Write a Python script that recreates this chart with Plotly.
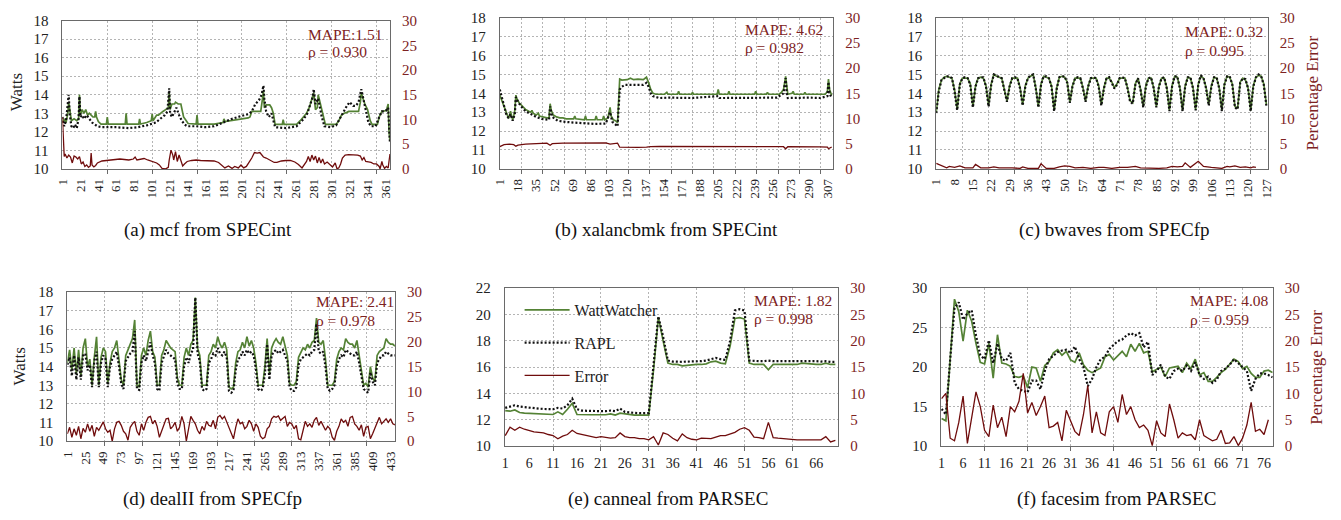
import plotly.graph_objects as go

# ---------------- DATA ----------------
# (a) mcf from SPECint
A_TICKS = [1, 21, 41, 61, 81, 101, 121, 141, 161, 181, 201, 221, 241, 261, 281, 301, 321, 341, 361]
A_WW_X = [1, 3, 5, 7, 8, 9, 11, 14, 17, 19,
          20, 21, 23, 25, 27, 29, 31, 33, 35, 37,
          38, 39, 41, 44, 50, 51, 52, 60, 71, 72,
          73, 86, 87, 88, 95, 100, 101, 102, 106, 108,
          110, 113, 116, 119, 120, 121, 123, 126, 127, 130,
          133, 134, 136, 139, 141, 150, 151, 152, 170, 180,
          181, 182, 190, 197, 205, 208, 210, 212, 220, 222,
          224, 225, 226, 228, 232, 234, 236, 238, 246, 247,
          248, 262, 266, 270, 273, 276, 279, 281, 283, 285,
          286, 288, 290, 292, 294, 306, 309, 312, 315, 318,
          320, 331, 333, 334, 336, 338, 341, 344, 346, 352,
          354, 357, 362, 364, 365, 366]
A_WW = [12.5, 12.7, 12.5, 13.0, 13.6, 13.3, 12.6, 12.7, 12.6, 12.7,
        14.0, 12.9, 13.2, 13.0, 13.2, 12.9, 13.0, 12.9, 12.8, 12.8,
        13.1, 12.8, 12.55, 12.42, 12.42, 12.8, 12.42, 12.42, 12.42, 13.0,
        12.42, 12.42, 12.7, 12.42, 12.5, 12.6, 12.95, 12.6, 12.9, 12.9,
        13.0, 13.1, 13.2, 13.3, 14.1, 13.2, 13.5, 13.5, 13.6, 13.5,
        13.5, 13.2, 12.8, 12.6, 12.45, 12.42, 12.9, 12.42, 12.42, 12.5,
        12.7, 12.55, 12.6, 12.65, 12.7, 12.75, 12.8, 13.1, 13.1, 13.1,
        13.8, 14.2, 13.3, 13.45, 13.45, 13.3, 13.0, 12.4, 12.4, 12.65,
        12.4, 12.4, 12.6, 12.8, 13.0, 13.3, 13.8, 14.1, 13.2, 13.3,
        14.0, 13.6, 13.3, 12.8, 12.4, 12.4, 12.6, 12.9, 13.0, 13.05,
        13.1, 13.1, 13.6, 14.1, 13.8, 13.5, 13.2, 12.6, 12.4, 12.4,
        12.8, 13.1, 13.15, 13.5, 12.0, 11.5]
A_RAPL_X = [1, 3, 5, 7, 8, 9, 11, 13, 15, 17,
            19, 20, 21, 23, 25, 28, 31, 34, 37, 40,
            45, 60, 75, 85, 95, 105, 110, 115, 118, 120,
            121, 123, 126, 128, 131, 134, 137, 140, 150, 160,
            170, 180, 190, 200, 208, 212, 216, 220, 223, 225,
            226, 228, 231, 234, 236, 238, 250, 262, 266, 270,
            274, 277, 280, 281, 283, 286, 288, 290, 293, 300,
            306, 310, 314, 318, 321, 325, 328, 331, 334, 336,
            339, 342, 345, 350, 354, 357, 360, 363, 364, 365,
            366]
A_RAPL = [12.8, 12.3, 12.6, 13.5, 14.0, 13.0, 12.3, 12.2, 12.4, 12.2,
          12.7, 13.9, 12.8, 12.9, 12.7, 12.9, 12.7, 12.5, 12.4, 12.3,
          12.25, 12.25, 12.2, 12.25, 12.35, 12.5, 12.7, 12.9, 13.1, 14.35,
          13.0, 12.8, 13.1, 13.3, 12.9, 12.6, 12.4, 12.3, 12.3, 12.25,
          12.3, 12.5, 12.7, 12.85, 12.95, 13.1, 13.5, 13.7, 14.0, 14.5,
          13.8, 13.1, 12.8, 13.0, 12.6, 12.25, 12.2, 12.3, 12.5, 12.7,
          13.0, 13.4, 13.9, 14.3, 13.5, 13.8, 13.2, 12.8, 12.3, 12.25,
          12.35, 12.7, 13.1, 13.4, 13.6, 13.4, 13.4, 13.6, 14.3, 13.8,
          13.2, 12.5, 12.3, 12.3, 12.8, 13.1, 13.1, 13.2, 13.3, 12.3,
          11.4]
A_ERR_X = [1, 2, 3, 4, 6, 8, 10, 12, 14, 16,
           18, 20, 22, 24, 26, 28, 30, 32, 33, 34,
           36, 38, 40, 45, 50, 55, 60, 65, 70, 75,
           80, 82, 84, 88, 92, 96, 100, 103, 106, 109,
           112, 116, 119, 120, 122, 124, 125, 127, 129, 131,
           133, 135, 137, 140, 145, 150, 155, 160, 165, 170,
           175, 178, 182, 186, 190, 193, 197, 200, 203, 206,
           209, 212, 215, 218, 221, 223, 225, 228, 231, 234,
           237, 240, 245, 250, 255, 260, 264, 268, 271, 273,
           275, 277, 279, 281, 283, 285, 287, 289, 291, 293,
           296, 299, 302, 305, 307, 309, 311, 313, 316, 320,
           325, 330, 333, 335, 337, 339, 342, 345, 348, 351,
           354, 355, 357, 358, 360, 362, 364, 365, 366]
A_ERR = [10.5, 4.0, 2.5, 3.0, 2.2, 2.8, 2.4, 1.2, 2.6, 2.4,
         2.0, 2.5, 1.0, 1.4, 0.5, 0.8, 0.3, 0.6, 3.2, 0.8,
         0.4, 0.7, 1.2, 1.6, 1.7, 1.9, 2.0, 2.0, 1.9, 1.8,
         2.0, 2.4, 1.8, 2.0, 2.1, 1.8, 1.6, 1.4, 1.2, 0.8,
         0.1, 0.0, 0.3, 1.8, 3.8, 2.8, 1.8, 3.5, 1.5, 2.8,
         1.8, 0.6, 1.0, 1.5, 1.7, 1.8, 1.7, 1.7, 1.6, 1.6,
         1.3, 0.9, 0.2, 0.6, 0.1, 0.5, 0.2, 0.8, 0.2, 0.5,
         1.3, 2.2, 3.3, 3.2, 3.3, 2.8, 2.4, 2.2, 1.9, 1.6,
         1.3, 1.3, 1.6, 1.7, 1.7, 1.4, 0.9, 0.2, 1.0, 1.5,
         2.5, 1.5, 2.8, 1.8, 2.6, 1.2, 2.3, 1.2, 2.0, 1.0,
         1.4, 0.8, 0.4, 1.2, 0.0, 0.2, 1.0, 2.2, 2.8, 2.9,
         2.9, 2.8, 2.6, 1.8, 2.3, 1.5, 1.4, 1.3, 1.0, 1.0,
         0.5, 0.0, 1.5, 0.8, 0.1, 0.5, 0.2, 1.5, 3.0]

# (b) xalancbmk from SPECint
B_TICKS = [1, 18, 35, 52, 69, 86, 103, 120, 137, 154, 171, 188, 205, 222, 239, 256, 273, 290, 307]
B_WW_X = [1, 3, 5, 7, 9, 10, 11, 12, 13, 14,
          15, 16, 17, 19, 22, 25, 28, 30, 31, 32,
          35, 37, 38, 41, 45, 47, 48, 49, 51, 54,
          57, 60, 63, 70, 71, 72, 80, 81, 82, 90,
          91, 92, 97, 98, 99, 102, 103, 104, 105, 107,
          109, 111, 113, 115, 120, 123, 126, 130, 135, 138,
          140, 142, 144, 147, 155, 157, 158, 167, 168, 169,
          180, 181, 182, 204, 205, 206, 214, 215, 216, 239,
          240, 241, 250, 251, 252, 262, 264, 266, 268, 269,
          270, 274, 275, 276, 285, 286, 287, 305, 307, 308,
          309, 311]
B_WW = [13.9, 13.6, 13.2, 12.9, 12.7, 12.75, 13.05, 12.8, 12.6, 12.8,
        13.1, 13.9, 13.7, 13.5, 13.3, 13.15, 13.05, 13.0, 13.1, 12.95,
        12.85, 12.95, 12.8, 12.75, 12.7, 12.7, 13.45, 13.1, 12.85, 12.75,
        12.7, 12.7, 12.65, 12.65, 12.8, 12.65, 12.6, 12.8, 12.6, 12.6,
        12.8, 12.6, 12.6, 12.8, 12.6, 12.7, 13.1, 13.25, 12.8, 12.6,
        12.55, 12.45, 14.75, 14.7, 14.72, 14.8, 14.72, 14.75, 14.72, 14.85,
        14.55, 14.2, 14.0, 13.95, 13.95, 14.05, 13.95, 13.95, 14.1, 13.95,
        13.95, 14.05, 13.95, 13.95, 14.2, 13.95, 13.95, 14.1, 13.95, 13.95,
        14.1, 13.95, 13.95, 14.05, 13.95, 13.95, 14.05, 14.2, 14.9, 14.2,
        13.95, 14.0, 14.1, 13.95, 13.95, 14.05, 13.95, 13.95, 14.1, 14.75,
        14.2, 13.9]
B_RAPL_X = [1, 3, 5, 7, 9, 11, 13, 15, 16, 18,
            21, 25, 30, 35, 40, 45, 47, 48, 50, 55,
            60, 70, 80, 90, 100, 103, 104, 106, 109, 111,
            113, 115, 118, 125, 130, 135, 138, 140, 142, 144,
            150, 160, 180, 205, 206, 230, 260, 266, 268, 269,
            270, 290, 300, 307, 308, 309, 311]
B_RAPL = [14.2, 13.8, 13.3, 12.9, 12.7, 12.9, 12.55, 12.9, 13.8, 13.55,
          13.3, 13.05, 12.9, 12.75, 12.65, 12.6, 12.6, 13.3, 12.75, 12.55,
          12.5, 12.45, 12.4, 12.38, 12.4, 12.9, 13.0, 12.5, 12.35, 12.25,
          14.2, 14.35, 14.45, 14.45, 14.45, 14.45, 14.55, 14.35, 14.0, 13.85,
          13.75, 13.77, 13.75, 13.85, 13.75, 13.75, 13.77, 14.0, 14.8, 14.0,
          13.75, 13.77, 13.75, 13.85, 14.6, 14.0, 13.75]
B_ERR_X = [1, 5, 10, 14, 16, 18, 25, 35, 45, 48,
           50, 60, 80, 100, 104, 108, 111, 113, 120, 130,
           138, 142, 150, 200, 266, 268, 270, 300, 307, 308,
           310, 311]
B_ERR = [4.4, 4.8, 4.9, 4.8, 4.5, 4.7, 4.9, 5.0, 5.1, 4.7,
         5.0, 5.1, 5.15, 5.15, 4.9, 5.1, 5.1, 4.3, 4.25, 4.25,
         4.3, 4.4, 4.45, 4.4, 4.4, 4.0, 4.4, 4.35, 4.3, 4.0,
         4.3, 4.35]

# (c) bwaves from SPECfp  (one value per sample 1..127)
C_TICKS = [1, 8, 15, 22, 29, 36, 43, 50, 57, 64, 71, 78, 85, 92, 99, 106, 113, 120, 127]
C_WW = [13.0, 14.2, 14.7, 14.85, 14.9, 14.85, 14.8, 14.2, 13.15, 14.5,
        14.8, 14.8, 14.8, 14.5, 13.3, 14.4, 14.8, 14.85, 14.8, 14.4,
        13.35, 14.5, 15.0, 14.9, 14.85, 14.8, 14.2, 13.6, 14.4, 14.8,
        14.8, 14.8, 14.3, 13.4, 14.4, 14.8, 14.9, 15.0, 14.3, 13.3,
        14.5, 14.9, 14.85, 14.8, 14.4, 13.1, 14.3, 14.85, 14.9, 14.85,
        14.6, 13.55, 14.4, 14.8, 14.8, 14.8, 14.3, 13.6, 14.4, 14.8,
        14.8, 14.8, 14.4, 13.4, 14.3, 14.8, 14.8, 14.6, 14.3, 14.5,
        14.8, 14.8, 14.8, 14.3, 13.6, 13.5, 14.5, 14.8, 14.2, 13.3,
        14.4, 14.8, 14.8, 14.3, 13.3, 14.4, 14.8, 14.8, 14.3, 13.1,
        14.4, 14.9, 14.85, 14.3, 13.1, 14.4, 14.85, 14.8, 14.3, 13.15,
        14.5, 14.9, 14.8, 14.3, 13.4, 14.4, 14.85, 14.8, 14.3, 13.1,
        14.5, 14.9, 14.85, 14.5, 13.3, 13.2, 14.6, 14.8, 14.7, 14.3,
        13.1, 14.4, 14.85, 14.95, 14.9, 14.5, 13.4]
C_RAPL = [12.95, 14.1, 14.7, 14.8, 14.9, 14.9, 14.8, 14.1, 13.1, 14.45,
          14.8, 14.85, 14.8, 14.45, 13.25, 14.35, 14.8, 14.85, 14.85, 14.35,
          13.3, 14.45, 15.0, 14.95, 14.85, 14.8, 14.15, 13.55, 14.35, 14.8,
          14.85, 14.8, 14.25, 13.35, 14.35, 14.8, 14.95, 15.0, 14.25, 13.25,
          14.45, 14.9, 14.9, 14.8, 14.35, 13.05, 14.25, 14.85, 14.9, 14.9,
          14.55, 13.5, 14.35, 14.8, 14.85, 14.8, 14.25, 13.55, 14.35, 14.8,
          14.85, 14.8, 14.35, 13.35, 14.25, 14.8, 14.85, 14.55, 14.25, 14.45,
          14.8, 14.85, 14.8, 14.25, 13.55, 13.45, 14.45, 14.8, 14.15, 13.25,
          14.35, 14.8, 14.85, 14.25, 13.25, 14.35, 14.8, 14.85, 14.25, 13.05,
          14.35, 14.9, 14.9, 14.25, 13.05, 14.35, 14.85, 14.85, 14.25, 13.1,
          14.45, 14.95, 14.8, 14.25, 13.35, 14.35, 14.85, 14.85, 14.25, 13.05,
          14.45, 14.9, 14.9, 14.45, 13.25, 13.15, 14.55, 14.8, 14.75, 14.25,
          13.05, 14.35, 14.85, 15.0, 14.9, 14.45, 13.35]
C_ERR_X = [1, 3, 5, 6, 8, 10, 12, 15, 16, 18,
           21, 23, 25, 30, 33, 34, 36, 40, 41, 43,
           46, 48, 50, 52, 54, 57, 60, 63, 65, 68,
           71, 74, 77, 79, 82, 86, 89, 91, 93, 95,
           96, 98, 101, 103, 106, 108, 110, 112, 113, 115,
           117, 119, 121, 122, 123]
C_ERR = [1.1, 0.6, 0.2, 0.5, 0.3, 0.6, 0.2, 0.2, 0.9, 0.2,
         0.2, 0.4, 0.2, 0.2, 0.1, 0.4, 0.1, 0.1, 1.0, 0.1,
         0.1, 0.4, 0.6, 0.5, 0.2, 0.3, 0.1, 0.3, 0.3, 0.1,
         0.3, 0.3, 0.5, 0.2, 0.1, 0.1, 0.2, 0.5, 0.4, 0.5,
         1.2, 0.3, 1.5, 0.5, 0.3, 0.2, 0.1, 0.5, 0.4, 0.6,
         0.3, 0.4, 0.2, 0.4, 0.3]

# (d) dealII from SPECfp  (samples at 1, 4, 7, ... 439)
D_TICKS = [1, 25, 49, 73, 97, 121, 145, 169, 193, 217, 241, 265, 289, 313, 337, 361, 385, 409, 433]
D_WW = [14.2, 14.9, 13.8, 15.0, 13.6, 14.9, 13.5, 15.0, 15.5, 14.0,
        14.4, 13.0, 14.5, 15.6, 13.0, 14.5, 15.0, 14.8, 13.1, 14.2,
        14.8, 15.0, 15.4, 14.3, 13.3, 13.0, 14.6, 14.9, 15.2, 15.5,
        16.5, 13.0, 12.9, 14.6, 15.0, 14.6, 15.4, 15.9, 14.8, 14.5,
        13.0, 13.0, 14.6, 14.9, 15.4, 15.2, 15.0, 14.9, 14.8, 13.4,
        13.0, 13.0, 14.5, 15.0, 14.6, 15.2, 15.4, 17.7, 15.0, 14.6,
        13.0, 13.0, 13.0, 14.6, 14.8, 15.2, 15.0, 15.6, 15.2, 15.0,
        15.3, 14.9, 12.9, 12.8, 12.9, 14.2, 14.8, 14.9, 15.3, 15.0,
        15.6, 15.1, 15.4, 15.0, 14.2, 13.0, 13.0, 13.0, 14.0, 15.5,
        13.6, 15.0, 15.3, 15.5, 15.3, 15.2, 15.6, 15.0, 14.6, 13.1,
        13.0, 13.0, 13.2, 14.5, 14.8, 15.0, 14.9, 15.2, 15.0, 15.3,
        15.4, 16.6, 15.3, 15.2, 15.4, 14.4, 13.0, 13.0, 13.0, 13.2,
        14.4, 14.8, 15.0, 14.9, 15.5, 15.3, 15.2, 15.2, 15.0, 15.4,
        14.6, 13.8, 13.0, 13.1, 12.9, 14.0, 13.4, 13.2, 14.6, 14.8,
        14.9, 15.0, 15.5, 15.3, 15.2, 15.2, 15.1]
D_RAPL = [14.1, 14.5, 13.5, 14.6, 13.3, 14.5, 13.3, 14.6, 14.7, 13.8,
          14.1, 12.9, 14.3, 14.8, 12.9, 14.2, 14.6, 14.4, 12.9, 14.0,
          14.4, 14.6, 14.8, 14.0, 13.1, 12.8, 14.3, 14.5, 14.7, 14.8,
          15.9, 12.8, 12.75, 14.2, 14.6, 14.3, 14.9, 15.3, 14.6, 14.2,
          12.8, 12.7, 14.2, 14.5, 14.9, 14.7, 14.6, 14.5, 14.4, 13.1,
          12.8, 12.8, 14.0, 14.5, 14.2, 14.7, 14.9, 17.7, 14.7, 14.3,
          12.8, 12.7, 12.8, 14.2, 14.4, 14.7, 14.6, 15.0, 14.7, 14.6,
          14.8, 14.5, 12.7, 12.6, 12.7, 13.8, 14.4, 14.5, 14.8, 14.6,
          14.9, 14.7, 14.8, 14.6, 13.9, 12.8, 12.7, 12.8, 13.6, 15.2,
          13.3, 14.6, 14.8, 14.9, 14.7, 14.8, 14.9, 14.6, 14.3, 12.9,
          12.7, 12.7, 12.9, 14.1, 14.4, 14.5, 14.6, 14.7, 14.6, 14.8,
          14.9, 16.3, 14.8, 14.7, 14.8, 14.0, 12.8, 12.7, 12.8, 13.0,
          14.0, 14.4, 14.6, 14.5, 14.9, 14.8, 14.7, 14.6, 14.6, 14.8,
          14.2, 13.5, 12.8, 12.7, 12.6, 13.7, 13.2, 13.0, 14.2, 14.4,
          14.6, 14.6, 14.8, 14.7, 14.6, 14.6, 14.6]
D_ERR = [1.5, 2.8, 0.8, 2.5, 1.2, 3.0, 0.5, 2.6, 1.8, 3.5,
         2.0, 3.2, 1.0, 2.8, 2.2, 3.0, 3.9, 2.5, 1.8, 2.2,
         0.0, 2.5, 3.8, 4.0, 3.2, 2.0, 1.5, 0.2, 2.8, 3.5,
         4.0, 2.0, 1.2, 3.5, 2.2, 3.8, 4.8, 5.0, 3.5, 4.2,
         3.0, 0.8, 2.0, 3.5, 4.5, 4.6, 2.5, 3.0, 3.8, 2.0,
         2.8, 5.0, 3.5, 0.0, 3.0, 5.0, 4.2, 3.5, 2.2, 1.5,
         3.0, 2.2, 4.0, 3.2, 3.0, 4.2, 2.5, 4.8, 5.2, 4.5,
         5.0, 3.8, 3.0, 1.5, 0.5, 2.8, 4.5, 3.5, 3.8, 2.5,
         3.0, 4.2, 3.5, 2.0, 3.5, 2.8, 1.0, 0.5, 0.8, 2.5,
         3.0, 4.5, 5.0, 4.8, 5.1, 4.2, 4.6, 5.0, 3.0, 3.8,
         3.5, 2.5, 3.2, 0.5, 0.3, 2.5, 4.0, 3.0, 3.5, 2.8,
         4.2, 4.8, 3.2, 4.0, 3.0, 2.2, 3.0, 2.5, 0.8, 0.2,
         2.0, 3.0, 4.5, 3.8, 4.2, 3.0, 4.8, 5.0, 3.5, 3.0,
         2.2, 3.3, 1.0, 2.8, 3.0, 0.5, 1.5, 2.5, 3.8, 4.8,
         3.5, 4.0, 4.5, 3.8, 4.5, 3.5, 3.3]

# (e) canneal from PARSEC (samples 1..70)
E_TICKS = [1, 6, 11, 16, 21, 26, 31, 36, 41, 46, 51, 56, 61, 66]
E_WW = [12.7, 12.65, 12.75, 12.55, 12.5, 12.48, 12.45, 12.45, 12.43, 12.42,
        12.4, 12.6, 12.4, 12.8, 13.25, 12.4, 12.38, 12.38, 12.38, 12.38,
        12.38, 12.38, 12.45, 12.35, 12.5, 12.45, 12.35, 12.35, 12.35, 12.35,
        12.35, 15.8, 19.8, 18.0, 16.3, 16.2, 16.2, 16.1, 16.15, 16.2,
        16.2, 16.2, 16.25, 16.4, 16.45, 16.3, 16.25, 17.6, 19.7, 19.75,
        19.65, 16.3, 16.2, 16.2, 16.2, 15.8, 16.2, 16.2, 16.2, 16.2,
        16.2, 16.2, 16.3, 16.25, 16.2, 16.2, 16.2, 16.3, 16.2, 16.2]
E_RAPL = [12.9, 13.0, 13.1, 13.0, 12.95, 12.9, 12.85, 12.85, 12.82, 12.8,
          12.8, 12.9, 12.85, 13.1, 13.6, 12.8, 12.7, 12.68, 12.66, 12.65,
          12.65, 12.65, 12.7, 12.65, 12.85, 12.6, 12.55, 12.5, 12.5, 12.5,
          12.5, 16.2, 19.85, 18.3, 16.5, 16.42, 16.4, 16.4, 16.42, 16.42,
          16.45, 16.45, 16.5, 16.6, 16.7, 16.6, 16.55, 18.0, 20.3, 20.4,
          20.3, 16.5, 16.45, 16.45, 16.45, 16.5, 16.45, 16.45, 16.45, 16.45,
          16.45, 16.45, 16.5, 16.5, 16.45, 16.45, 16.42, 16.45, 16.4, 16.4]
E_ERR = [2.0, 3.6, 3.0, 3.6, 3.2, 2.9, 2.7, 2.6, 2.5, 2.2,
         2.0, 1.4, 1.9, 2.2, 3.0, 2.4, 2.2, 2.0, 1.8, 1.6,
         1.8, 1.7, 1.5, 1.6, 2.5, 1.8, 1.6, 1.6, 1.4, 1.4,
         1.2, 1.8, 0.2, 2.5, 2.2, 1.5, 1.0, 2.3, 1.6, 1.3,
         1.2, 1.5, 1.5, 1.4, 1.7, 2.0, 2.0, 2.3, 2.6, 3.2,
         3.5, 3.0, 1.7, 1.6, 1.4, 4.5, 1.6, 1.5, 1.4, 1.3,
         1.2, 1.2, 1.2, 1.2, 1.3, 1.3, 1.2, 1.8, 0.8, 1.1]

# (f) facesim from PARSEC (samples 1..78)
F_TICKS = [1, 6, 11, 16, 21, 26, 31, 36, 41, 46, 51, 56, 61, 66, 71, 76]
F_WW = [13.5, 13.2, 21.0, 28.6, 27.0, 23.3, 27.2, 25.8, 23.0, 20.6,
        20.4, 23.0, 18.6, 24.1, 20.5, 20.4, 20.1, 18.8, 18.7, 18.9,
        17.4, 20.0, 19.9, 18.2, 20.2, 20.7, 21.8, 22.2, 21.5, 22.0,
        20.9, 20.6, 21.8, 20.3, 19.6, 19.3, 19.6, 19.9, 21.3, 21.6,
        20.9, 21.4, 22.0, 21.3, 22.9, 22.0, 23.0, 21.8, 22.0, 19.4,
        19.7, 20.0, 18.8, 19.9, 20.0, 20.1, 19.3, 20.5, 19.8, 21.0,
        19.0, 19.3, 18.2, 18.2, 18.7, 19.3, 19.7, 20.3, 21.0, 20.7,
        19.8, 20.1, 19.2, 18.7, 18.7, 19.5, 19.6, 19.3]
F_RAPL = [14.7, 14.0, 21.0, 27.5, 28.2, 26.0, 26.8, 27.2, 24.0, 21.5,
          21.0, 23.4, 20.5, 23.0, 21.0, 20.8, 21.8, 18.0, 17.2, 17.0,
          16.8, 18.3, 18.3, 17.2, 19.5, 21.0, 21.5, 21.9, 22.1, 22.2,
          21.8, 22.6, 21.0, 20.0, 17.6, 18.5, 20.0, 21.0, 21.3, 22.3,
          22.8, 23.3, 23.5, 24.0, 24.3, 24.0, 24.3, 22.5, 23.2, 19.0,
          19.5, 20.3, 18.8, 18.5, 19.5, 19.8, 19.5, 20.2, 19.5, 20.6,
          19.0, 18.5, 18.8, 18.0, 18.4, 19.5, 19.8, 20.3, 21.0, 20.5,
          20.0, 19.5, 17.0, 18.5, 19.2, 19.2, 19.0, 18.7]
F_ERR = [9.0, 10.0, 1.5, 1.0, 4.5, 9.5, 0.5, 5.5, 10.3, 7.5,
         3.0, 1.8, 7.8, 3.5, 5.5, 1.8, 7.5, 6.5, 8.5, 13.8,
         6.3, 8.3, 5.8, 7.5, 9.5, 3.5, 3.8, 4.5, 1.0, 6.8,
         4.8, 2.8, 2.0, 6.0, 11.5, 2.5, 6.5, 2.5, 2.0, 6.5,
         7.5, 4.5, 9.8, 6.0, 7.5, 5.0, 3.5, 4.0, 3.0, 0.1,
         4.8, 2.5, 1.8, 8.0, 5.0, 1.5, 2.5, 2.0, 2.2, 1.2,
         5.0, 2.0, 1.5, 1.0, 1.3, 3.0, 0.5, 0.6, 1.8, 0.1,
         1.5, 4.0, 8.3, 2.8, 3.2, 2.2, 5.0]

CAPTIONS = ["(a) mcf from SPECint", "(b) xalancbmk from SPECint", "(c) bwaves from SPECfp",
            "(d) dealII from SPECfp", "(e) canneal from PARSEC", "(f) facesim from PARSEC"]
MAPE = ["MAPE:1.51", "MAPE: 4.62", "MAPE: 0.32", "MAPE: 2.41", "MAPE: 1.82", "MAPE: 4.08"]
RHO = ["ρ = 0.930", "ρ = 0.982", "ρ = 0.995", "ρ = 0.978", "ρ = 0.998", "ρ = 0.959"]
SERIES_NAMES = ["WattWatcher", "RAPL", "Error"]

# ---------------- STYLE / LAYOUT ----------------
W, H = 1341, 520
FONT = "Liberation Serif"
GREEN = "#548235"
BLACK = "#111111"
RED = "#6f0c0c"
REDTXT = "#7d2222"
GRID = "#b4b4b4"
AXIS = "#6a6a6a"


def idx(values, start=1, step=1):
    return list(range(start, start + step * len(values), step))


PANELS = [
    dict(box=(55, 13, 386, 166), xr=[1, 366], yr=[10, 18], ydt=1, ticks=A_TICKS, grid=list(range(51, 366, 50)), rot=True,
         ww=(A_WW_X, A_WW), rapl=(A_RAPL_X, A_RAPL), err=(A_ERR_X, A_ERR),
         ann=(301, 27, 45), cap=(202, 229)),
    dict(box=(497, 10, 834, 166), xr=[1, 312.5], yr=[10, 18], ydt=1, ticks=B_TICKS, grid=list(range(21, 312, 20)), rot=True,
         ww=(B_WW_X, B_WW), rapl=(B_RAPL_X, B_RAPL), err=(B_ERR_X, B_ERR),
         ann=(743, 22, 41), cap=(665, 229)),
    dict(box=(938, 10, 1273, 166), xr=[1, 127.5], yr=[10, 18], ydt=1, ticks=C_TICKS, grid=list(range(11, 127, 10)), rot=True,
         ww=(idx(C_WW), C_WW), rapl=(idx(C_RAPL), C_RAPL), err=(C_ERR_X, C_ERR),
         ann=(1187, 24, 44), cap=(1118, 229)),
    dict(box=(60, 293, 391, 447), xr=[1, 438.8], yr=[10, 18], ydt=1, ticks=D_TICKS, grid=list(range(51, 438, 50)), rot=True,
         ww=(idx(D_WW, 1, 3), D_WW), rapl=(idx(D_RAPL, 1, 3), D_RAPL), err=(idx(D_ERR, 1, 3), D_ERR),
         ann=(309, 303, 322), cap=(207, 507)),
    dict(box=(502, 289, 839, 452), xr=[0.9, 70.6], yr=[10, 22], ydt=2, ticks=E_TICKS, grid=list(range(11, 70, 10)), rot=False,
         ww=(idx(E_WW), E_WW), rapl=(idx(E_RAPL), E_RAPL), err=(idx(E_ERR), E_ERR),
         ann=(752, 302, 320), cap=(667, 507)),
    dict(box=(943, 289, 1278, 452), xr=[0.9, 78], yr=[10, 30], ydt=5, ticks=F_TICKS, grid=list(range(11, 78, 10)), rot=False,
         ww=(idx(F_WW), F_WW), rapl=(idx(F_RAPL), F_RAPL), err=(idx(F_ERR), F_ERR),
         ann=(1192, 302, 321), cap=(1120, 507)),
]

fig = go.Figure()
layout = dict(width=W, height=H, margin=dict(l=0, r=0, t=0, b=0), paper_bgcolor="white", plot_bgcolor="white",
              font=dict(family=FONT, size=15, color="#222222"), showlegend=True)
annotations = []

for k, p in enumerate(PANELS):
    xs = "" if k == 0 else str(k + 1)
    yl = "" if k == 0 else str(2 * k + 1)
    yr = str(2 * k + 2)
    x0, y0, x1, y1 = p["box"]
    layout["xaxis" + xs] = dict(
        domain=[x0 / W, x1 / W], anchor="y" + yl, range=p["xr"], tickmode="array",
        tickvals=p["ticks"], ticktext=[str(v) for v in p["ticks"]], tickangle=-90 if p["rot"] else 0,
        showgrid=False, zeroline=False, showline=True, mirror=True, linecolor=AXIS, linewidth=1,
        ticks="", tickfont=dict(family=FONT, size=14 if not p["rot"] else 13, color="#222222"), ticklabelstandoff=4,
        minor=dict(tickmode="array", tickvals=p["grid"], showgrid=True, gridcolor=GRID, griddash="2px,2px",
                   gridwidth=1, ticks="outside", ticklen=4, tickcolor=AXIS))
    layout["yaxis" + yl] = dict(
        domain=[1 - y1 / H, 1 - y0 / H], anchor="x" + xs, range=p["yr"], dtick=p["ydt"], tick0=10,
        showgrid=True, gridcolor=GRID, griddash="2px,2px", gridwidth=1, zeroline=False, showline=True,
        mirror=True, linecolor=AXIS, linewidth=1, ticks="", ticklabelstandoff=10,
        tickfont=dict(family=FONT, size=15, color="#222222"))
    layout["yaxis" + yr] = dict(
        overlaying="y" + yl, anchor="x" + xs, side="right", range=[0, 30], dtick=5, showgrid=False,
        zeroline=False, showline=False, ticks="", ticklabelstandoff=11,
        tickfont=dict(family=FONT, size=15, color=REDTXT))

    show = (k == 4)
    fig.add_trace(go.Scatter(x=p["ww"][0], y=p["ww"][1], mode="lines", name=SERIES_NAMES[0],
                             line=dict(color=GREEN, width=1.7), xaxis="x" + xs, yaxis="y" + yl,
                             showlegend=show, legendgroup="g0"))
    fig.add_trace(go.Scatter(x=p["rapl"][0], y=p["rapl"][1], mode="lines", name=SERIES_NAMES[1],
                             line=dict(color=BLACK, width=2.2, dash="2px,2px"), xaxis="x" + xs, yaxis="y" + yl,
                             showlegend=show, legendgroup="g1"))
    fig.add_trace(go.Scatter(x=p["err"][0], y=p["err"][1], mode="lines", name=SERIES_NAMES[2],
                             line=dict(color=RED, width=1.3), xaxis="x" + xs, yaxis="y" + yr,
                             showlegend=show, legendgroup="g2"))

    ax, ay1, ay2 = p["ann"]
    annotations.append(dict(text=MAPE[k], x=ax / W, y=1 - ay1 / H, xref="paper", yref="paper",
                            xanchor="left", yanchor="middle", showarrow=False,
                            font=dict(size=15.5, color=REDTXT, family=FONT)))
    annotations.append(dict(text=RHO[k], x=ax / W, y=1 - ay2 / H, xref="paper", yref="paper",
                            xanchor="left", yanchor="middle", showarrow=False,
                            font=dict(size=15.5, color=REDTXT, family=FONT)))
    cx, cy = p["cap"]
    annotations.append(dict(text=CAPTIONS[k], x=cx / W, y=1 - cy / H, xref="paper", yref="paper",
                            xanchor="center", yanchor="middle", showarrow=False,
                            font=dict(size=19, color="#111111", family=FONT)))

for (tx, ty, txt, col) in [(8, 87, "Watts", "#222222"), (12, 370, "Watts", "#222222"),
                           (1318, 88, "Percentage Error", REDTXT), (1322, 371, "Percentage Error", REDTXT)]:
    annotations.append(dict(text=txt, x=tx / W, y=1 - ty / H, xref="paper", yref="paper", textangle=-90,
                            xanchor="center", yanchor="middle", showarrow=False,
                            font=dict(size=17, color=col, family=FONT)))

layout["annotations"] = annotations
layout["legend"] = dict(x=517 / W, y=1 - 294 / H, xanchor="left", yanchor="top", bgcolor="rgba(0,0,0,0)",
                        font=dict(size=16, family=FONT, color="#222222"), tracegroupgap=9, itemwidth=45)
fig.update_layout(**layout)
fig.write_html("out.html")
